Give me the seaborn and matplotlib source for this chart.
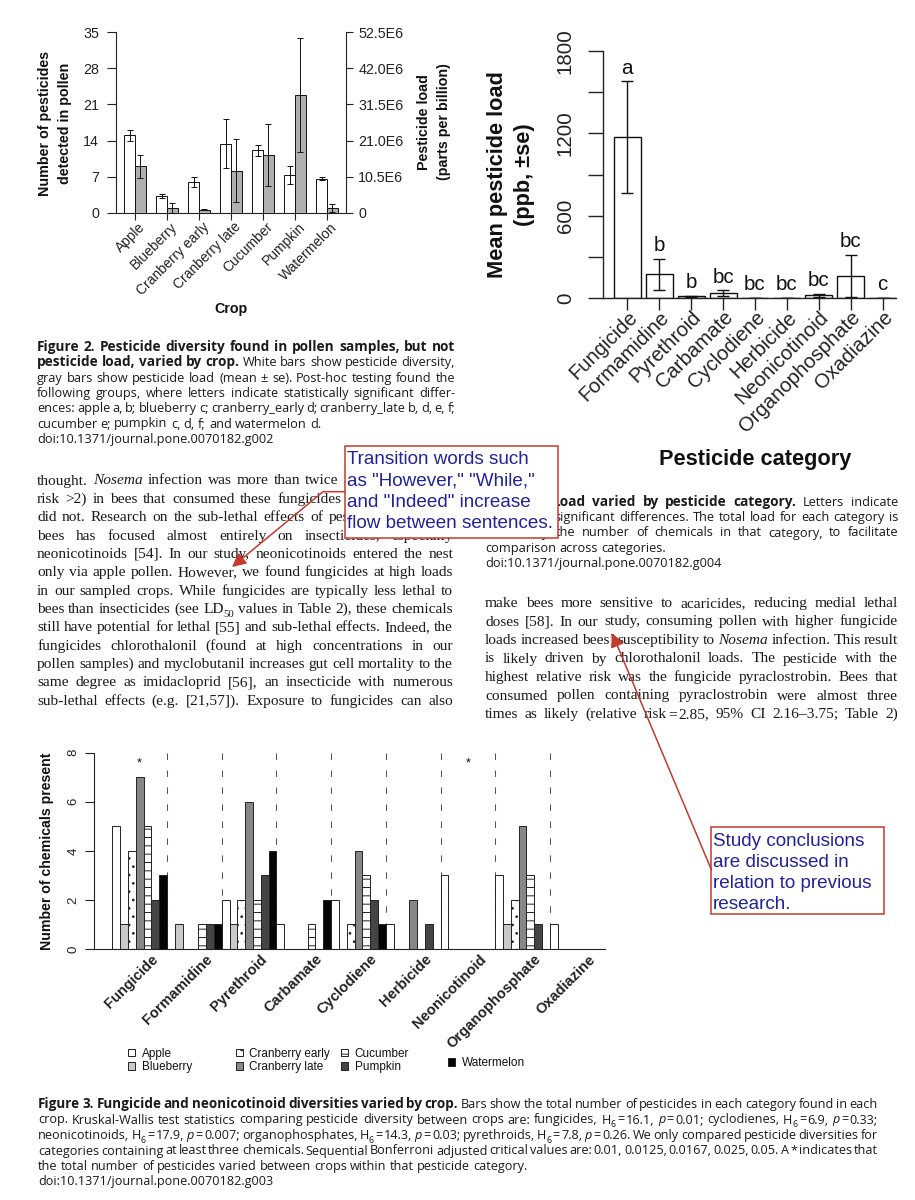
import re
import matplotlib
matplotlib.use("Agg")
import matplotlib.pyplot as plt
import matplotlib.transforms as mtransforms
from matplotlib.patches import Rectangle, Patch, FancyArrowPatch
from matplotlib.path import Path
import seaborn as sns
import pandas as pd
import numpy as np

# ---------- Figure 2: pesticide diversity and load by crop ----------
crops = ["Apple", "Blueberry", "Cranberry early", "Cranberry late", "Cucumber", "Pumpkin", "Watermelon"]
n_pesticides = [15.0, 3.3, 6.0, 13.4, 12.1, 7.4, 6.6]
n_pesticides_se = [1.0, 0.4, 1.0, 4.7, 1.0, 1.7, 0.3]
load_e6 = [13.5, 1.45, 0.95, 12.3, 16.8, 34.2, 1.45]      # ppb, in units of 1E6
load_e6_se = [3.3, 1.35, 0.15, 9.1, 9.1, 16.5, 1.2]
load_ticks = ["0", "10.5E6", "21.0E6", "31.5E6", "42.0E6", "52.5E6"]

# ---------- Figure 4: mean load by pesticide category ----------
categories = ["Fungicide", "Formamidine", "Pyrethroid", "Carbamate", "Cyclodiene",
              "Herbicide", "Neonicotinoid", "Organophosphate", "Oxadiazine"]
mean_load = [1172, 172, 12, 34, 2, 1, 19, 161, 0]
mean_load_se = [407, 115, 5, 22, 0, 0, 12, 155, 0]
letters = ["a", "b", "b", "bc", "bc", "bc", "bc", "bc", "c"]

# ---------- Figure 3: number of chemicals per category and crop ----------
apple = [5, 0, 2, 1, 2, 1, 3, 3, 1]
blueberry = [1, 1, 1, 0, 0, 0, 0, 1, 0]
cranberry_early = [4, 0, 2, 0, 1, 0, 0, 2, 0]
cranberry_late = [7, 0, 6, 0, 4, 2, 0, 5, 0]
cucumber = [5, 1, 2, 1, 3, 0, 0, 3, 0]
pumpkin = [2, 1, 3, 0, 2, 1, 0, 1, 0]
watermelon = [3, 1, 4, 2, 1, 0, 0, 0, 0]
significant = [True, False, False, False, False, False, True, False, False]

# ---------- page text ----------
fig2_caption = [
    "**Figure 2. Pesticide diversity found in pollen samples, but not",
    "pesticide load, varied by crop.** White bars show pesticide diversity,",
    "gray bars show pesticide load (mean ± se). Post-hoc testing found the",
    "following groups, where letters indicate statistically significant differ-",
    "ences: apple a, b; blueberry c; cranberry_early d; cranberry_late b, d, e, f;",
    "cucumber e; pumpkin c, d, f; and watermelon d.",
    "doi:10.1371/journal.pone.0070182.g002",
]
fig4_caption = [
    "**Figure 4. Load varied by pesticide category.** Letters indicate",
    "statistically significant differences. The total load for each category is",
    "divided by the number of chemicals in that category, to facilitate",
    "comparison across categories.",
    "doi:10.1371/journal.pone.0070182.g004",
]
fig3_caption = [
    "**Figure 3. Fungicide and neonicotinoid diversities varied by crop.** Bars show the total number of pesticides in each category found in each",
    "crop. Kruskal-Wallis test statistics comparing pesticide diversity between crops are: fungicides, H_{6}~=~16.1, //p//~=~0.01; cyclodienes, H_{6}~=~6.9, //p//~=~0.33;",
    "neonicotinoids, H_{6}~=~17.9, //p//~=~0.007; organophosphates, H_{6}~=~14.3, //p//~=~0.03; pyrethroids, H_{6}~=~7.8, //p//~=~0.26. We only compared pesticide diversities for",
    "categories containing at least three chemicals. Sequential Bonferroni adjusted critical values are: 0.01, 0.0125, 0.0167, 0.025, 0.05. A * indicates that",
    "the total number of pesticides varied between crops within that pesticide category.",
    "doi:10.1371/journal.pone.0070182.g003",
]
body_left = [
    "thought. //Nosema// infection was more than twice as likely (relative",
    "risk >2) in bees that consumed these fungicides than in bees that",
    "did not. Research on the sub-lethal effects of pesticides on honey",
    "bees has focused almost entirely on insecticides, especially",
    "neonicotinoids [54]. In our study, neonicotinoids entered the nest",
    "only via apple pollen. However, we found fungicides at high loads",
    "in our sampled crops. While fungicides are typically less lethal to",
    "bees than insecticides (see LD_{50} values in Table 2), these chemicals",
    "still have potential for lethal [55] and sub-lethal effects. Indeed, the",
    "fungicides chlorothalonil (found at high concentrations in our",
    "pollen samples) and myclobutanil increases gut cell mortality to the",
    "same degree as imidacloprid [56], an insecticide with numerous",
    "sub-lethal effects (e.g. [21,57]). Exposure to fungicides can also",
]
body_right = [
    "make bees more sensitive to acaricides, reducing medial lethal",
    "doses [58]. In our study, consuming pollen with higher fungicide",
    "loads increased bees’ susceptibility to //Nosema// infection. This result",
    "is likely driven by chlorothalonil loads. The pesticide with the",
    "highest relative risk was the fungicide pyraclostrobin. Bees that",
    "consumed pollen containing pyraclostrobin were almost three",
    "times as likely (relative risk~=~2.85, 95% CI 2.16–3.75; Table 2)",
]
note_transition = ["Transition words such", "as \"However,\" \"While,\"",
                   "and \"Indeed\" increase", "flow between sentences."]
note_conclusion = ["Study conclusions", "are discussed in", "relation to previous", "research."]

# ---------- setup ----------
sns.set_style("ticks")
plt.rcParams["font.family"] = ["Liberation Sans", "DejaVu Sans"]
plt.rcParams["hatch.linewidth"] = 0.7
plt.rcParams["axes.edgecolor"] = "#222222"
plt.rcParams["axes.linewidth"] = 0.8
plt.rcParams["xtick.color"] = "#222222"
plt.rcParams["ytick.color"] = "#222222"
plt.rcParams["text.color"] = "#111111"
plt.rcParams["axes.labelcolor"] = "#111111"

W, H = 915, 1200
fig = plt.figure(figsize=(W / 100, H / 100), dpi=100)
fig.patch.set_facecolor("white")
PX = mtransforms.Affine2D().scale(1 / W, -1 / H).translate(0, 1) + fig.transFigure
renderer = fig.canvas.get_renderer()

# annotation boxes (left, top, right, bottom in page pixels)
note_boxes = [(344.6, 446, 558, 538), (711, 827.3, 884.3, 914)]


def px_axes(left, top, right, bottom):
    return fig.add_axes([left / W, 1 - bottom / H, (right - left) / W, (bottom - top) / H])


def shift(labels, dx):
    off = mtransforms.ScaledTranslation(dx / 100, 0, fig.dpi_scale_trans)
    for lab in labels:
        lab.set_transform(lab.get_transform() + off)


def place_label(axis, x, y, size, text, spacing=1.2):
    axis.set_label_text(text, fontsize=size, fontweight="bold", linespacing=spacing)
    axis.set_label_coords(x, y, transform=PX)
    axis.label.set_va("center")


# ---------- Figure 2 chart ----------
ax1 = px_axes(116, 32, 346, 213)
ax1r = ax1.twinx()
fig2_df = pd.DataFrame({
    "crop": crops * 2,
    "measure": ["diversity"] * len(crops) + ["load"] * len(crops),
    "value": n_pesticides + load_e6,
})
fig2_pal = {"diversity": "white", "load": "#b0b0b0"}
for a, m in [(ax1, "diversity"), (ax1r, "load")]:
    sns.barplot(data=fig2_df[fig2_df["measure"] == m], x="crop", y="value", hue="measure",
                order=crops, hue_order=["diversity", "load"], palette=fig2_pal, dodge=True,
                width=0.68, saturation=1, edgecolor="#111111", linewidth=0.7,
                errorbar=None, legend=False, ax=a)
for a, vals, errs in [(ax1, n_pesticides, n_pesticides_se), (ax1r, load_e6, load_e6_se)]:
    xs = [p.get_x() + p.get_width() / 2 for p in a.patches]
    a.errorbar(xs, vals, yerr=errs, fmt="none", ecolor="#111111", elinewidth=0.7,
               capsize=2.2, capthick=0.7)

ax1.set_xlim(-0.594, 6.594)
ax1.set_ylim(0, 35)
ax1.set_yticks(np.arange(0, 36, 7))
ax1r.set_ylim(0, 52.5)
ax1r.set_yticks(np.arange(0, 52.6, 10.5), load_ticks)
for s in ["top", "right"]:
    ax1.spines[s].set_visible(False)
for s in ["top", "left", "bottom"]:
    ax1r.spines[s].set_visible(False)
ax1.spines["left"].set_bounds(0, 35)
ax1r.spines["right"].set_bounds(0, 52.5)
ax1.tick_params(axis="y", length=6.7, width=0.8, pad=5.5, labelsize=10.3)
ax1r.tick_params(axis="y", length=5.3, width=0.8, pad=3.6, labelsize=10.3)
ax1.set_xticks(range(len(crops)), crops, rotation=45, ha="right", va="center",
               rotation_mode="anchor")
ax1.tick_params(axis="x", length=5, width=0.8, pad=3.6, labelsize=10)
shift(ax1.get_xticklabels(), 8)
place_label(ax1.xaxis, 231, 309, 10.3, "Crop")
place_label(ax1.yaxis, 55, 123, 10.3, "Number of pesticides\ndetected in pollen", 1.5)
place_label(ax1r.yaxis, 434, 122, 10.3, "Pesticide load\n(parts per billion)", 1.5)

# ---------- Figure 4 chart ----------
ax2 = px_axes(603, 51, 896, 298)
sns.barplot(x=categories, y=mean_load, color="white", saturation=1, width=0.846,
            edgecolor="#111111", linewidth=1.0, errorbar=None, ax=ax2)
ax2.errorbar(range(len(categories)), mean_load, yerr=mean_load_se, fmt="none",
             ecolor="#111111", elinewidth=1.0, capsize=4.3, capthick=1.0)
for i, (m, se, lab) in enumerate(zip(mean_load, mean_load_se, letters)):
    ax2.text(i, m + se + 95, lab, ha="center", va="center", fontsize=14.8)
ax2.set_xlim(-0.76, 8.42)
ax2.set_ylim(0, 1800)
ax2.set_yticks(np.arange(0, 1801, 300), ["0", "", "600", "", "1200", "", "1800"])
for s in ["top", "right"]:
    ax2.spines[s].set_visible(False)
ax2.spines["left"].set_bounds(0, 1800)
for s in ax2.spines.values():
    s.set_linewidth(1.0)
ax2.tick_params(axis="y", length=10.8, width=1.0, pad=9.4, labelsize=14.8, labelrotation=90)
for lab in ax2.get_yticklabels():
    lab.set_va("center")
ax2.set_xticks(range(len(categories)), categories, rotation=45, ha="right", va="center",
               rotation_mode="anchor")
ax2.tick_params(axis="x", length=8.6, width=1.0, pad=3.2, labelsize=14.6)
shift(ax2.get_xticklabels(), 7)
place_label(ax2.xaxis, 755, 459, 15.7, "Pesticide category")
place_label(ax2.yaxis, 511, 175, 15.7, "Mean pesticide load\n(ppb, ±se)", 1.4)

# ---------- Figure 3 chart ----------
ax3 = px_axes(94.3, 752.7, 605, 949)
counts = pd.DataFrame({"Apple": apple, "Blueberry": blueberry, "Cranberry early": cranberry_early,
                       "Cranberry late": cranberry_late, "Cucumber": cucumber,
                       "Pumpkin": pumpkin, "Watermelon": watermelon}, index=categories)
fig3_df = counts.reset_index(names="category").melt(id_vars="category", var_name="crop", value_name="n")
crop_fill = {"Apple": "white", "Blueberry": "#c9c9c9", "Cranberry early": "white",
             "Cranberry late": "#878787", "Cucumber": "white", "Pumpkin": "#454545",
             "Watermelon": "#050505"}
crop_hatch = {"Apple": "", "Blueberry": "", "Cranberry early": "..", "Cranberry late": "",
              "Cucumber": "--", "Pumpkin": "", "Watermelon": ""}
sns.barplot(data=fig3_df, x="category", y="n", hue="crop", order=categories, hue_order=crops,
            palette=crop_fill, dodge=True, width=1, gap=0, saturation=1, edgecolor="#222222",
            linewidth=0.7, errorbar=None, legend=False, ax=ax3)
for cont, crop in zip(ax3.containers, crops):
    for bar in cont:
        bar.set_hatch(crop_hatch[crop])
ax3.vlines(np.arange(len(categories) - 1) + 0.5, 8, 0, colors="#555555",
           linestyles=(0, (6.2, 10.1)), linewidth=0.75, zorder=0.5)
for i, sig in enumerate(significant):
    if sig:
        ax3.text(i, 7.55, "*", ha="center", va="center", fontsize=9)
ax3.set_xlim(-0.829, 8.507)
ax3.set_ylim(0, 8)
ax3.set_yticks(range(0, 9, 2))
for s in ["top", "right"]:
    ax3.spines[s].set_visible(False)
ax3.spines["left"].set_bounds(0, 8)
ax3.tick_params(axis="y", length=6.5, width=0.8, pad=4, labelsize=9.5, labelrotation=90)
for lab in ax3.get_yticklabels():
    lab.set_va("center")
ax3.set_xticks(range(len(categories)), categories, rotation=45, ha="right", va="center",
               rotation_mode="anchor", fontweight="bold")
ax3.tick_params(axis="x", length=0, pad=5.8, labelsize=10.5)
shift(ax3.get_xticklabels(), 16)
ax3.set_xlabel("")
place_label(ax3.yaxis, 46.7, 851, 10.2, "Number of chemicals present")

legend_cols = [(["Apple", "Blueberry"], 128, 1060.5),
               (["Cranberry early", "Cranberry late"], 235.5, 1060.5),
               (["Cucumber", "Pumpkin"], 341, 1060.5),
               (["Watermelon"], 448, 1063.3)]
for names, lx, ly in legend_cols:
    handles = [Patch(facecolor=crop_fill[c], edgecolor="#222222", hatch=crop_hatch[c],
                     linewidth=0.7, label=c) for c in names]
    fig.legend(handles=handles, loc="center left", bbox_to_anchor=(lx, ly), bbox_transform=PX,
               frameon=False, fontsize=8.5, handlelength=0.6, handleheight=0.6,
               handletextpad=0.55, labelspacing=0.15, borderpad=0, borderaxespad=0)

# ---------- justified page text ----------
TOKEN = re.compile(r"(\*\*|//|_\{[^}]*\}|~)")


def under_note(t):
    bb = t.get_window_extent(renderer)
    top, bottom = H - bb.y1, H - bb.y0
    return any(bx0 <= bb.x0 and bb.x1 <= bx1 and by0 <= top and bottom <= by1
               for bx0, by0, bx1, by1 in note_boxes)


def draw_line(line, state, x0, x1, base, size, family, justify, bold_scale):
    px_size = size * 100 / 72
    words, widths = [], []
    for w in line.split(" "):
        pieces, x = [], 0.0
        for tok in TOKEN.split(w):
            if tok == "**":
                state["b"] = not state["b"]
            elif tok == "//":
                state["i"] = not state["i"]
            elif tok == "~":
                x += 0.12 * px_size
            elif tok:
                sub = tok.startswith("_{")
                s = tok[2:-1] if sub else tok
                fs = size * (0.7 if sub else 1) * (bold_scale if state["b"] else 1)
                t = fig.text(0, 0, s, transform=PX, fontsize=fs,
                             family=family, va="baseline", color="#1a1a1a",
                             fontweight="bold" if state["b"] else "normal",
                             fontstyle="italic" if state["i"] else "normal")
                pieces.append((t, x, 0.28 * px_size if sub else 0))
                x += t.get_window_extent(renderer).width
        if pieces:
            words.append(pieces)
            widths.append(x)
    gap = 0.26 * px_size
    if justify and len(words) > 1:
        gap = (x1 - x0 - sum(widths)) / (len(words) - 1)
    x = x0
    for pieces, w in zip(words, widths):
        for t, dx, dy in pieces:
            t.set_position((x + dx, base + dy))
            if under_note(t):
                t.remove()
        x += w + gap


def text_block(lines, x0, x1, y0, step, size, family, n_justified, bold_scale=1.0):
    state = {"b": False, "i": False}
    for k, line in enumerate(lines):
        draw_line(line, state, x0, x1, y0 + k * step, size, family, k < n_justified, bold_scale)


text_block(fig2_caption, 37, 455, 351, 15.3, 9.15, "Open Sans", 5, 1.07)
text_block(fig4_caption, 485, 898, 505.7, 15.4, 9.15, "Open Sans", 3, 1.07)
text_block(fig3_caption, 38, 878, 1108, 15.5, 9.1, "Open Sans", 4, 1.07)
text_block(body_left, 37, 453, 484.5, 18.35, 11.1, "Liberation Serif", len(body_left))
text_block(body_right, 485, 898, 607, 18.5, 11.1, "Liberation Serif", len(body_right))

# ---------- annotation boxes and arrows ----------
red = "#c23b2e"
blue = "#22229a"
for (bx0, by0, bx1, by1), lines, ty0 in zip(note_boxes, [note_transition, note_conclusion],
                                            [464.5, 845.5]):
    fig.add_artist(Rectangle((bx0, by0), bx1 - bx0, by1 - by0, transform=PX, facecolor="white",
                             edgecolor=red, linewidth=1.1, zorder=10))
    for k, ln in enumerate(lines):
        fig.text(bx0 + 2, ty0 + k * 21.3, ln, transform=PX, fontsize=13.6, color=blue,
                 va="baseline", ha="left", zorder=11)

for verts in [[(344.6, 491.7), (323, 491.7), (232, 567)],
              [(711.5, 870), (612, 633)]]:
    path = Path(verts, [Path.MOVETO] + [Path.LINETO] * (len(verts) - 1))
    fig.add_artist(FancyArrowPatch(path=path, transform=PX,
                                   arrowstyle="-|>,head_length=0.6,head_width=0.3",
                                   mutation_scale=14, color=red, linewidth=1.1, zorder=12))

fig.savefig("out.png", dpi=100, facecolor="white")
